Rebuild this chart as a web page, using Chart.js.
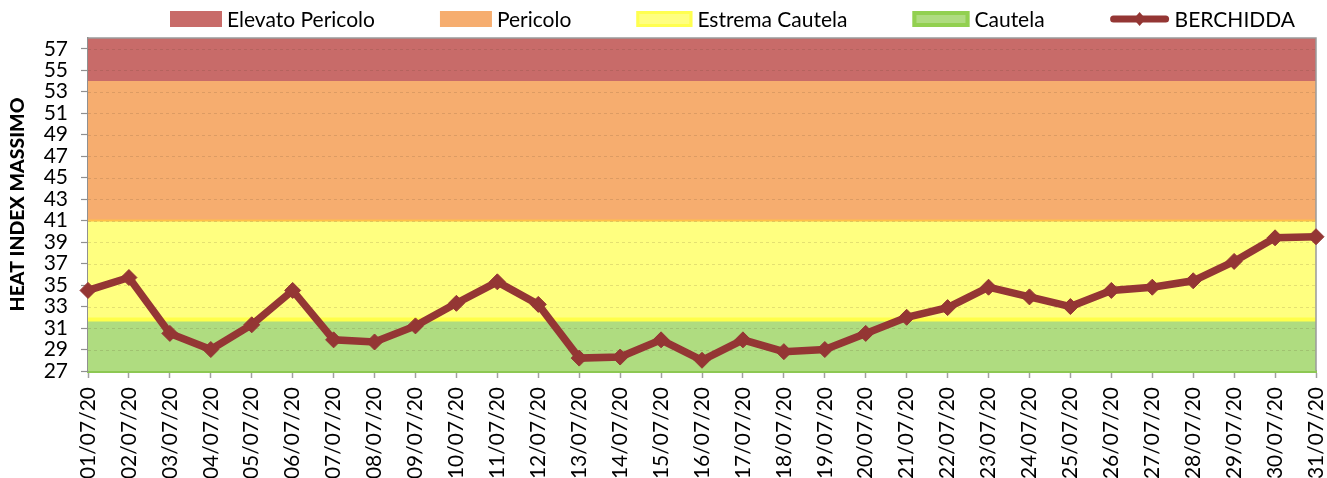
<!DOCTYPE html>
<html>
<head>
<title>Heat Index Berchidda</title>
<script src="https://cdn.jsdelivr.net/npm/chart.js"></script>
<style>
body { margin:0; background:white; overflow:hidden; }
#wrap { width:1327px; height:478px; }
</style>
</head>
<body>
<div id="wrap"><canvas id="chart"></canvas></div>
<script>
// ---------------- DATA ----------------
const days = ["01/07/20","02/07/20","03/07/20","04/07/20","05/07/20","06/07/20","07/07/20","08/07/20",
  "09/07/20","10/07/20","11/07/20","12/07/20","13/07/20","14/07/20","15/07/20","16/07/20",
  "17/07/20","18/07/20","19/07/20","20/07/20","21/07/20","22/07/20","23/07/20","24/07/20",
  "25/07/20","26/07/20","27/07/20","28/07/20","29/07/20","30/07/20","31/07/20"];

const berchidda = [34.5, 35.7, 30.5, 29.0, 31.3, 34.5, 29.9, 29.7, 31.2, 33.3, 35.3, 33.2,
  28.2, 28.3, 29.9, 28.0, 29.9, 28.8, 29.0, 30.5, 32.0, 32.9, 34.8, 33.9, 33.0, 34.5,
  34.8, 35.4, 37.2, 39.4, 39.5];

// upper limit of each band
const cautelaTop = 31.8;
const estremaTop = 41;
const pericoloTop = 54;
const elevatoTop = 58;

const yTicks = [27, 29, 31, 33, 35, 37, 39, 41, 43, 45, 47, 49, 51, 53, 55, 57];

const FONT = "Lato";

function band(v){ return days.map(() => v); }

// ---------------- LEGEND (drawn by hand, excel style) ----------------
const legendItems = [
  {text:"Elevato Pericolo", fill:"#C86B69", w:52},
  {text:"Pericolo", fill:"#F6AD6F", w:52},
  {text:"Estrema Cautela", fill:"#FFFF80", stroke:"#FFFF50", lw:3, w:56},
  {text:"Cautela", fill:"#AFDC80", stroke:"#92D050", lw:4, w:57},
  {text:"BERCHIDDA", line:"#943634", w:60}
];

const legendPlugin = {
  id:"xlLegend",
  afterDraw(chart){
    const ctx = chart.ctx;
    ctx.save();
    ctx.font = "21px " + FONT;
    ctx.textBaseline = "middle";
    let x = 170, y = 19;
    legendItems.forEach(it => {
      if(it.line){
        ctx.strokeStyle = it.line;
        ctx.lineWidth = 7;
        ctx.lineCap = "round";
        ctx.beginPath();
        ctx.moveTo(x+4, y); ctx.lineTo(x+it.w-4, y);
        ctx.stroke();
        ctx.fillStyle = it.line;
        const c = x + it.w/2;
        ctx.beginPath();
        ctx.moveTo(c, y-7); ctx.lineTo(c+6, y); ctx.lineTo(c, y+7); ctx.lineTo(c-6, y);
        ctx.closePath(); ctx.fill();
      } else {
        ctx.fillStyle = it.fill;
        ctx.fillRect(x, y-8, it.w, 16);
        if(it.stroke){
          ctx.strokeStyle = it.stroke;
          ctx.lineWidth = it.lw;
          ctx.strokeRect(x+it.lw/2, y-8+it.lw/2, it.w-it.lw, 16-it.lw);
        }
      }
      ctx.fillStyle = "#000";
      const tx = x + it.w + 5;
      ctx.fillText(it.text, tx, y+1);
      x = tx + ctx.measureText(it.text).width + 65;
    });
    ctx.restore();
  }
};

// dashed grid + gray frame, drawn over the bands but under the line
const framePlugin = {
  id:"frame",
  afterDatasetDraw(chart, args){
    if(args.index !== 0) return;
    const a = chart.chartArea, ctx = chart.ctx, ys = chart.scales.y;
    ctx.save();
    ctx.strokeStyle = "rgba(90,60,40,0.16)";
    ctx.lineWidth = 1;
    ctx.setLineDash([3,3]);
    yTicks.forEach(v => {
      const py = Math.round(ys.getPixelForValue(v)) + 0.5;
      if(v === 27) return;
      ctx.beginPath(); ctx.moveTo(a.left, py); ctx.lineTo(a.right, py); ctx.stroke();
    });
    ctx.setLineDash([]);
    ctx.strokeStyle = "#9a9a9a";
    ctx.lineWidth = 1.5;
    ctx.beginPath();
    ctx.moveTo(a.left, a.top); ctx.lineTo(a.right, a.top); ctx.lineTo(a.right, a.bottom);
    ctx.stroke();
    ctx.restore();
  }
};

// ---------------- CHART ----------------
new Chart(document.getElementById("chart"), {
  type:"line",
  data:{
    labels:days,
    datasets:[
      {label:"Cautela", data:band(cautelaTop), fill:"start", backgroundColor:"#AFDC80",
       borderColor:"#FFFF4A", borderWidth:4, pointRadius:0},
      {label:"Estrema Cautela", data:band(estremaTop), fill:"-1", backgroundColor:"#FFFF80",
       borderColor:"#FFC04A", borderWidth:2, pointRadius:0},
      {label:"Pericolo", data:band(pericoloTop), fill:"-1", backgroundColor:"#F6AD6F",
       borderWidth:0, pointRadius:0},
      {label:"Elevato Pericolo", data:band(elevatoTop), fill:"-1", backgroundColor:"#C86B69",
       borderWidth:0, pointRadius:0},
      {label:"BERCHIDDA", data:berchidda, order:-1, fill:false,
       borderColor:"#943634", borderWidth:7.5, tension:0,
       pointStyle:"rectRot", pointRadius:8, pointBackgroundColor:"#943634",
       pointBorderColor:"#943634", pointBorderWidth:1}
    ]
  },
  options:{
    responsive:true,
    maintainAspectRatio:false,
    animation:false,
    events:[],
    layout:{ padding:{top:38, right:0, left:0, bottom:0} },
    plugins:{ legend:{display:false}, tooltip:{enabled:false} },
    scales:{
      x:{
        offset:false,
        afterFit(axis){ axis.height = 107; axis.paddingLeft = 0; axis.paddingRight = 11; },
        grid:{ drawOnChartArea:false, tickLength:7, color:"#a0a0a0", tickWidth:1.5 },
        border:{ color:"#8DC853", width:3 },
        ticks:{ minRotation:90, maxRotation:90, autoSkip:false, padding:9,
                color:"#000", font:{family:FONT, size:21} }
      },
      y:{
        min:27, max:elevatoTop,
        afterFit(axis){ axis.width = 88; },
        afterBuildTicks(axis){ axis.ticks = yTicks.map(v => ({value:v})); },
        grid:{ drawOnChartArea:false, tickColor:"#909090", tickLength:7, tickWidth:1.2 },
        border:{ color:"#909090", width:1.5 },
        ticks:{ autoSkip:false, padding:13, color:"#000", font:{family:FONT, size:21} },
        title:{ display:true, text:"HEAT INDEX MASSIMO", color:"#000", padding:{top:6, bottom:4},
                font:{family:FONT, size:19.5, weight:"900"} }
      }
    }
  },
  plugins:[legendPlugin, framePlugin]
});
</script>
</body>
</html>
